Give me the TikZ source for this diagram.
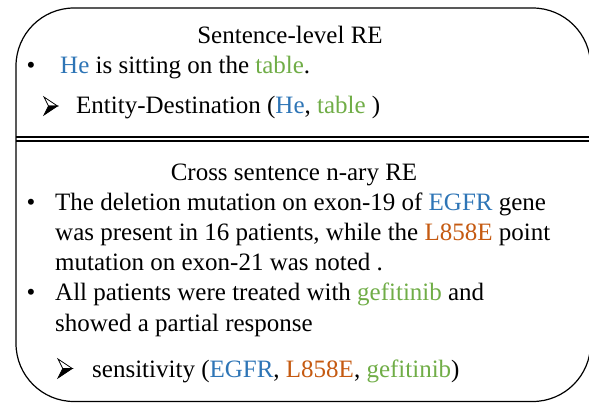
\documentclass[tikz,border=0pt]{standalone}
\usepackage{fontspec}
\setmainfont{Liberation Serif}
\definecolor{eblue}{HTML}{2E75B6}
\definecolor{egreen}{HTML}{70AD47}
\definecolor{eorange}{HTML}{C55A11}
\tikzset{
  txt/.style={anchor=base west,inner sep=0pt,font=\fontsize{25}{30}\selectfont},
  ttl/.style={anchor=base,inner sep=0pt,font=\fontsize{25}{30}\selectfont},
  bul/.style={anchor=base,inner sep=0pt,font=\fontsize{25}{30}\selectfont},
  frame/.style={draw=black,line width=1.2pt,rounded corners=58pt},
  dbl/.style={draw=black,line width=1.5pt},
  arrowbullet/.pic={
    \draw[line width=0.8pt,line join=miter,fill=white] (0,0) -- (15,10) -- (5,10) -- cycle;
    \fill[black] (5,10) -- (15,10) -- (0,20) -- cycle;
    \draw[line width=0.8pt,line join=miter] (5,10) -- (15,10) -- (0,20) -- cycle;
  }
}
\begin{document}
\begin{tikzpicture}[x=1pt,y=-1pt]
\useasboundingbox (0,0) rectangle (589,402);
\clip (0,0) rectangle (589,402);
\draw[frame] (16,8) rectangle (590.6,401.5);
\coordinate (dl1) at (16,137);
\coordinate (dr1) at (589,137);
\coordinate (dl2) at (16,141);
\coordinate (dr2) at (589,141);
\draw[dbl] (dl1) -- (dr1);
\draw[dbl] (dl2) -- (dr2);
% top section
\node[ttl] (t1) at (290,43) {Sentence-level RE};
\node[bul] (b1) at (31,73) {\textbullet};
\node[txt] (s1) at (60,73) {\textcolor{eblue}{He} is sitting on the \textcolor{egreen}{table}.};
\coordinate (a1) at (44,97);
\pic[scale=0.9] at (a1) {arrowbullet};
\node[txt] (r1) at (76,113) {Entity-Destination (\textcolor{eblue}{He}, \textcolor{egreen}{table} )};
% bottom section
\node[ttl] (t2) at (294,180) {Cross sentence n-ary RE};
\node[bul] (b2) at (31,210) {\textbullet};
\node[txt] (l1) at (55,210) {The deletion mutation on exon-19 of \textcolor{eblue}{EGFR} gene};
\node[txt] (l2) at (55,240) {was present in 16 patients, while the \textcolor{eorange}{L858E} point};
\node[txt] (l3) at (55,270) {mutation on exon-21 was noted .};
\node[bul] (b3) at (31,300) {\textbullet};
\node[txt] (l4) at (55,300) {All patients were treated with \textcolor{egreen}{gefitinib} and};
\node[txt] (l5) at (55,331) {showed a partial response};
\coordinate (a2) at (58,359);
\pic[scale=0.95] at (a2) {arrowbullet};
\node[txt] (r2) at (92,377) {sensitivity (\textcolor{eblue}{EGFR}, \textcolor{eorange}{L858E}, \textcolor{egreen}{gefitinib})};
\end{tikzpicture}
\end{document}
